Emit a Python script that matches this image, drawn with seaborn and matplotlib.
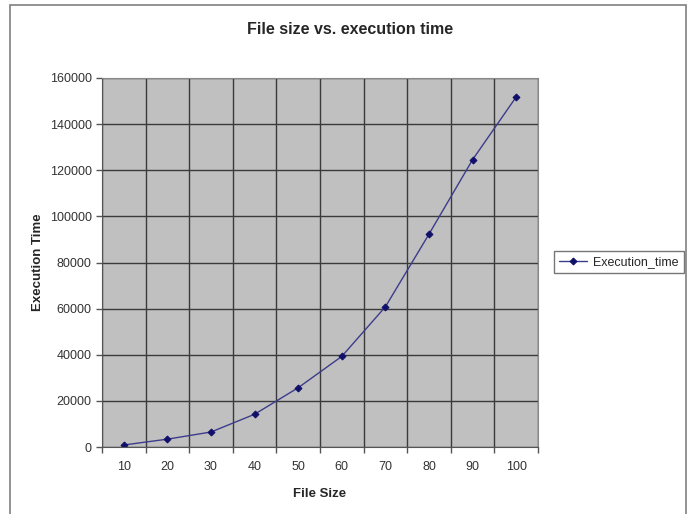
import numpy as np
import pandas as pd
import matplotlib.pyplot as plt
import seaborn as sns
from matplotlib.patches import Rectangle
from matplotlib.ticker import MultipleLocator, FixedLocator

# data
file_size = [10, 20, 30, 40, 50, 60, 70, 80, 90, 100]
exec_time = [870, 3400, 6500, 14200, 25700, 39300, 60800, 92300, 124600, 151800]

df = pd.DataFrame({'File Size': file_size, 'Execution_time': exec_time})

sns.set_style('white')
plt.rcParams['font.family'] = ['Liberation Sans', 'DejaVu Sans']

fig = plt.figure(figsize=(6.93, 5.14), dpi=100)
ax = fig.add_axes([102 / 693, 1 - 447 / 514, (538 - 102) / 693, (447 - 78) / 514])
ax.set_facecolor('#c0c0c0')

sns.pointplot(data=df, x='File Size', y='Execution_time', ax=ax,
              color='#3c3c8c', markers='D', markersize=3.5, linewidth=1,
              markerfacecolor='#10106a', markeredgecolor='#10106a',
              label='Execution_time')

ax.set_xlim(-0.5, len(file_size) - 0.5)
ax.set_ylim(0, 160000)
ax.yaxis.set_major_locator(MultipleLocator(20000))
ax.xaxis.set_minor_locator(FixedLocator(np.arange(-0.5, len(file_size), 1.0)))

# gridlines like the old spreadsheet chart
ax.grid(False)
ax.grid(True, which='minor', axis='x', color='#3a3a3a', lw=1)
ax.grid(True, which='major', axis='y', color='#3a3a3a', lw=1)
ax.set_axisbelow(True)

ax.tick_params(axis='x', which='major', length=0, pad=10, labelsize=9, colors='#333333')
ax.tick_params(axis='x', which='minor', length=4, width=1, color='#555555', direction='out', bottom=True)
ax.tick_params(axis='y', which='major', length=4, width=1, color='#555555', direction='out', left=True,
               labelsize=9, labelcolor='#333333')

for side in ['top', 'right']:
    ax.spines[side].set_color('#888888')
for side in ['left', 'bottom']:
    ax.spines[side].set_color('#555555')

ax.set_xlabel('File Size', fontsize=9.5, fontweight='bold', labelpad=11)
ax.set_ylabel('Execution Time', fontsize=9.5, fontweight='bold', labelpad=4)
fig.text(350 / 693, 1 - 30 / 514, 'File size vs. execution time', ha='center', va='center',
         fontsize=11.5, fontweight='bold')

leg = ax.legend(loc='center left', bbox_to_anchor=(548 / 693, 1 - 262 / 514),
                bbox_transform=fig.transFigure, frameon=True, fancybox=False,
                fontsize=9, handlelength=2.2, borderpad=0.4, handletextpad=0.5)
leg.get_frame().set_edgecolor('#555555')
leg.get_frame().set_linewidth(1)

# outer chart border
fig.patches.append(Rectangle((10 / 693, -0.02), 676 / 693, 1 - 5 / 514 + 0.02,
                             transform=fig.transFigure, fill=False, edgecolor='#808080', lw=1.2))

fig.savefig('out.png', dpi=100)
